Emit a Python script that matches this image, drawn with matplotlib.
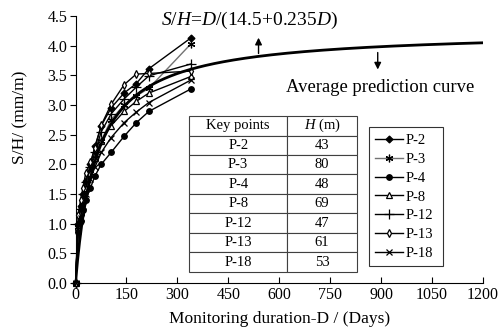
import numpy as np
import matplotlib.pyplot as plt

plt.rcParams['font.family'] = ['Liberation Serif', 'DejaVu Serif']
plt.rcParams['mathtext.fontset'] = 'custom'
plt.rcParams['mathtext.it'] = 'Liberation Serif:italic'
plt.rcParams['mathtext.rm'] = 'Liberation Serif'

#----- Data -----#
days = [0, 8, 15, 22, 30, 44, 57, 76, 105, 143, 179, 216, 340]

p2  = [0, 1.00, 1.30, 1.50, 1.72, 2.00, 2.30, 2.65, 2.95, 3.20, 3.36, 3.61, 4.13]
p3  = [0, 0.95, 1.20, 1.40, 1.60, 1.85, 2.10, 2.40, 2.75, 3.00, 3.15, 3.28, 4.03]
p4  = [0, 0.85, 1.05, 1.22, 1.40, 1.60, 1.80, 2.00, 2.20, 2.47, 2.70, 2.89, 3.27]
p8  = [0, 0.95, 1.20, 1.40, 1.60, 1.85, 2.10, 2.40, 2.65, 2.89, 3.06, 3.20, 3.48]
p12 = [0, 1.00, 1.25, 1.50, 1.70, 1.95, 2.20, 2.55, 2.85, 3.10, 3.30, 3.49, 3.69]
p13 = [0, 1.15, 1.40, 1.60, 1.85, 2.03, 2.27, 2.66, 3.01, 3.34, 3.52, 3.53, 3.57]
p18 = [0, 0.90, 1.10, 1.30, 1.50, 1.75, 1.95, 2.20, 2.45, 2.70, 2.88, 3.04, 3.42]

key_points = ['P-2', 'P-3', 'P-4', 'P-8', 'P-12', 'P-13', 'P-18']
H_m = [43, 80, 48, 69, 47, 61, 53]

# average prediction curve S/H = D/(a + b D)
a_coef = 14.5
b_coef = 0.235

series = [p2, p3, p4, p8, p12, p13, p18]
markers = ['D', (6, 2, 0), 'o', '^', '+', 'd', 'x']
fills = ['black', 'black', 'black', 'white', 'black', 'white', 'black']
msizes = [3.5, 5.5, 4, 4.5, 6.5, 4, 4.5]
colors = ['black', '0.45', 'black', 'black', 'black', 'black', 'black']

fig = plt.figure(figsize=(5.0, 3.32), dpi=100)
ax = fig.add_axes([0.151, 0.148, 0.815, 0.804])

for s, m, fc, ms, c, lab in zip(series, markers, fills, msizes, colors, key_points):
    ax.plot(days, s, color=c, marker=m, markerfacecolor=fc, markeredgecolor='black',
            markersize=ms, lw=1.0, mew=0.9, label=lab, clip_on=False, zorder=3)

D = np.linspace(0, 1200, 400)
ax.plot(D, D / (a_coef + b_coef * D), color='black', lw=2.0, zorder=4)

ax.set_xlim(0, 1200)
ax.set_ylim(0, 4.5)
ax.set_xticks(np.arange(0, 1201, 150))
ax.set_yticks(np.arange(0, 4.51, 0.5))
ax.set_yticklabels([f'{v:.1f}' for v in np.arange(0, 4.51, 0.5)])
ax.spines['top'].set_visible(False)
ax.spines['right'].set_visible(False)
ax.tick_params(axis='x', direction='in', length=4, labelsize=11.5, pad=3)
ax.tick_params(axis='y', direction='out', length=4, labelsize=11.5, pad=2)
ax.set_xlabel('Monitoring duration-D / (Days)', fontsize=12.5, labelpad=6)
ax.set_ylabel('S/H/ (mm/m)', fontsize=12.5, labelpad=6)
ax.yaxis.set_label_coords(-0.115, 0.62)

# annotations
ax.annotate('', xy=(539, 4.18), xytext=(539, 3.82),
            arrowprops=dict(arrowstyle='-|>', color='black', lw=1.0, mutation_scale=10))
ax.text(253, 4.43, r'$S/H$=$D$/(14.5+0.235$D$)', fontsize=14, va='center', ha='left')
ax.annotate('', xy=(890, 3.55), xytext=(890, 3.93),
            arrowprops=dict(arrowstyle='-|>', color='black', lw=1.0, mutation_scale=10))
ax.text(620, 3.29, 'Average prediction curve', fontsize=13.4, va='center', ha='left')

# table
cells = [[k, str(h)] for k, h in zip(key_points, H_m)]
tab = ax.table(cellText=cells, colLabels=['Key points', r'$H$ (m)'],
               cellLoc='center', bbox=[0.279, 0.041, 0.412, 0.584],
               colWidths=[0.584, 0.416], zorder=5)
tab.auto_set_font_size(False)
tab.set_fontsize(10.5)
for (r, c), cell in tab.get_celld().items():
    cell.set_edgecolor('0.25')
    cell.set_linewidth(0.8)
    cell.set_facecolor('white')

leg = ax.legend(loc='lower left', bbox_to_anchor=(0.72, 0.062, 0.182, 0.52), mode='expand',
                fontsize=10.5, frameon=True, fancybox=False, edgecolor='black',
                handlelength=1.9, handletextpad=0.2, labelspacing=0.38, borderpad=0.45,
                borderaxespad=0)
leg.get_frame().set_linewidth(0.8)

fig.savefig('out.png', dpi=100)
